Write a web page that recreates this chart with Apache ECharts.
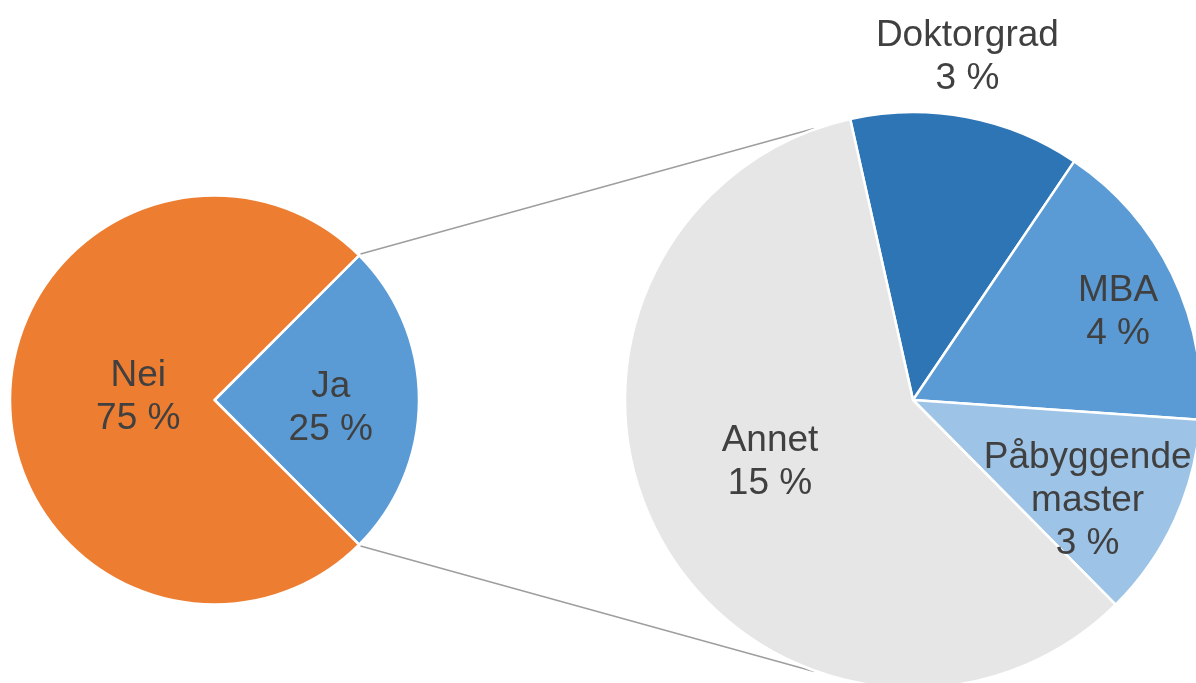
<!DOCTYPE html>
<html>
<head>
<meta charset="utf-8">
<title>Pie of pie</title>
<script src="https://cdn.jsdelivr.net/npm/echarts@6/dist/echarts.min.js"></script>
<style>
  html, body { margin: 0; padding: 0; background: #fff; }
  #chart { width: 1196px; height: 683px; }
</style>
</head>
<body>
<div id="chart"></div>
<script>
// main pie
var mainNames = ['Ja', 'Nei'];
var mainValues = [25, 75];

// how the "Ja" answers split up
var subNames = ['Doktorgrad', 'MBA', 'Påbyggende master', 'Annet'];
var subValues = [3.24, 4.16, 2.87, 14.73];

var mainColors = ['#5B9BD5', '#ED7D31'];
var subColors = ['#2E75B6', '#5B9BD5', '#9DC3E6', '#E6E6E6'];

var mainCenter = [214.5, 400], mainR = 204.5;
var subCenter = [913, 400], subR = 288;
var subStart = 102.6;      // where Doktorgrad begins
var connectorAngle = 110;  // where the grey lines hit the second pie

// Excel's "best fit" labels sit a bit off the slice middle
var labelNudge = {
  'Ja': [11, 8],
  'Nei': [29, -3],
  'Doktorgrad': [-37, -45],
  'MBA': [73, -23],
  'Påbyggende master': [41, 40],
  'Annet': [-14, -8]
};

var labelStyle = {
  show: true,
  position: 'inside',
  color: '#404040',
  fontFamily: 'Liberation Sans, Arial, sans-serif',
  fontSize: 37,
  lineHeight: 43,
  formatter: function (p) {
    return p.name.replace(' ', '\n') + '\n' + Math.round(p.value) + ' %';
  }
};

function nudge(names) {
  return function (p) {
    var n = labelNudge[names[p.dataIndex]] || [0, 0];
    return { dx: n[0], dy: n[1], align: 'center' };
  };
}

var total = mainValues.reduce(function (a, b) { return a + b; }, 0);
var jaHalf = mainValues[0] / total * 180;

var mainData = mainNames.map(function (n, i) {
  return { name: n, value: mainValues[i], itemStyle: { color: mainColors[i] } };
});
var subData = subNames.map(function (n, i) {
  var d = { name: n, value: subValues[i], itemStyle: { color: subColors[i] } };
  if (n === 'Doktorgrad') {
    d.label = { position: 'outside' };
    d.labelLine = { show: false };
  }
  return d;
});

// the two grey connector lines, from the edges of "Ja" to the second pie
var connectors = [-1, 1].map(function (s) {
  var a = jaHalf * Math.PI / 180;
  var b = connectorAngle * Math.PI / 180;
  return {
    type: 'line',
    z: 0,
    shape: {
      x1: mainCenter[0] + (mainR + 2) * Math.cos(a),
      y1: mainCenter[1] + s * (mainR + 2) * Math.sin(a),
      x2: subCenter[0] + (subR + 1) * Math.cos(b),
      y2: subCenter[1] + s * (subR + 1) * Math.sin(b)
    },
    style: { stroke: '#9E9E9E', lineWidth: 1.6 }
  };
});

var chart = echarts.init(document.getElementById('chart'));
chart.setOption({
  animation: false,
  backgroundColor: '#fff',
  graphic: connectors,
  series: [
    {
      type: 'pie',
      center: mainCenter,
      radius: mainR,
      startAngle: jaHalf,
      clockwise: true,
      avoidLabelOverlap: false,
      emphasis: { disabled: true },
      itemStyle: { borderColor: '#fff', borderWidth: 2.5 },
      label: labelStyle,
      labelLine: { show: false },
      labelLayout: nudge(mainNames),
      data: mainData
    },
    {
      type: 'pie',
      center: subCenter,
      radius: subR,
      startAngle: subStart,
      clockwise: true,
      avoidLabelOverlap: false,
      emphasis: { disabled: true },
      itemStyle: { borderColor: '#fff', borderWidth: 2.5 },
      label: labelStyle,
      labelLine: { show: false },
      labelLayout: nudge(subNames),
      data: subData
    }
  ]
});
</script>
</body>
</html>
